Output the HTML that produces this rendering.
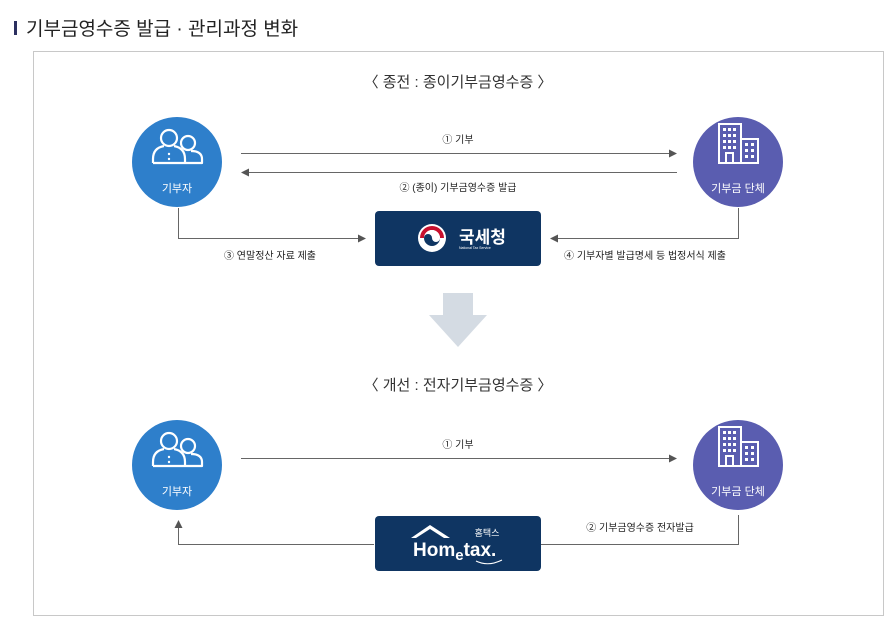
<!DOCTYPE html>
<html><head><meta charset="utf-8"><style>
body{margin:0;background:#fff;width:890px;height:626px;overflow:hidden}
svg{display:block}
text{font-family:"Liberation Sans","Noto Sans CJK KR",sans-serif}
</style></head><body>
<svg width="890" height="626" viewBox="0 0 890 626">
<defs>
<g id="people" fill="none" stroke="#fff" stroke-width="2.2" stroke-linejoin="round">
<path d="M8 6 H25 V2 Q25 -6 14 -6"/>
<circle cx="11" cy="-14" r="7"/>
<path d="M-24 6 V2 Q-24 -9 -13 -11 M-3 -11 Q8 -9 8 2 V6 M-24 6 H8"/>
<circle cx="-8" cy="-19" r="8"/>
<circle cx="-8" cy="-3" r="1.2" fill="#fff" stroke="none"/>
<circle cx="-8" cy="2" r="1.2" fill="#fff" stroke="none"/>
</g>
<g id="bldg" fill="none" stroke="#fff" stroke-width="2">
<rect x="-19" y="-28" width="22" height="39"/>
<rect x="3" y="-13" width="17" height="24"/>
<rect x="-12" y="1" width="7" height="10"/>
<g fill="#fff" stroke="none">
<rect x="-15" y="-24" width="3" height="3"/><rect x="-10" y="-24" width="3" height="3"/><rect x="-5" y="-24" width="3" height="3"/>
<rect x="-15" y="-18" width="3" height="3"/><rect x="-10" y="-18" width="3" height="3"/><rect x="-5" y="-18" width="3" height="3"/>
<rect x="-15" y="-12" width="3" height="3"/><rect x="-10" y="-12" width="3" height="3"/><rect x="-5" y="-12" width="3" height="3"/>
<rect x="-15" y="-6" width="3" height="3"/><rect x="-10" y="-6" width="3" height="3"/><rect x="-5" y="-6" width="3" height="3"/>
<rect x="7" y="-9" width="3" height="3"/><rect x="13" y="-9" width="3" height="3"/>
<rect x="7" y="-3" width="3" height="3"/><rect x="13" y="-3" width="3" height="3"/>
<rect x="7" y="3" width="3" height="3"/><rect x="13" y="3" width="3" height="3"/>
</g></g>
</defs>
<rect x="14" y="21" width="3" height="14" fill="#2c3060"/>
<text x="26" y="35" font-size="19" fill="#222">기부금영수증 발급 · 관리과정 변화</text>
<rect x="33.5" y="51.5" width="850" height="564" fill="none" stroke="#c8c8c8"/>

<text x="458" y="87" font-size="15" fill="#333" text-anchor="middle">〈 종전 : 종이기부금영수증 〉</text>
<circle cx="177" cy="162" r="45" fill="#2e7fcb"/>
<use href="#people" x="177" y="157"/>
<text x="177" y="192" font-size="11" fill="#fff" text-anchor="middle">기부자</text>
<circle cx="738" cy="162" r="45" fill="#5a5db0"/>
<use href="#bldg" x="738" y="152"/>
<text x="738" y="192" font-size="11" fill="#fff" text-anchor="middle">기부금 단체</text>

<g stroke="#666" stroke-width="1" fill="none">
<path d="M241 153.5H672"/><path d="M246 172.5H677"/>
<path d="M178.5 208V238.5H360"/><path d="M738.5 208V238.5H556"/>
<path d="M241 458.5H672"/>
<path d="M374 544.5H178.5V527"/><path d="M541 544.5H738.5V515"/>
</g>
<g fill="#555">
<path d="M677 153.5l-8-4v8z"/><path d="M241 172.5l8-4v8z"/>
<path d="M366 238.5l-8-4v8z"/><path d="M550 238.5l8-4v8z"/>
<path d="M677 458.5l-8-4v8z"/><path d="M178.5 520l-4 8h8z"/>
</g>
<g font-size="10" fill="#222" text-anchor="middle">
<text x="458" y="143">① 기부</text>
<text x="458" y="191">② (종이) 기부금영수증 발급</text>
<text x="270" y="259">③ 연말정산 자료 제출</text>
<text x="645" y="259">④ 기부자별 발급명세 등 법정서식 제출</text>
<text x="458" y="448">① 기부</text>
<text x="640" y="531">② 기부금영수증 전자발급</text>
</g>

<rect x="375" y="211" width="166" height="55" rx="4" fill="#0f3562"/>
<circle cx="432" cy="238" r="14" fill="#fff"/>
<path d="M420 238a12 12 0 0 1 24 0h-4a8 8 0 0 0 -16 0z" fill="#c8102e"/>
<path d="M424 238a8 8 0 0 1 16 0a10 10 0 0 1 -20 0z" fill="#fff"/>
<path d="M424 238a4 4 0 0 1 8 0a4 4 0 0 0 8 0a8 8 0 0 1 -16 0z" fill="#0f3562"/>
<text x="459" y="243" font-size="17" font-weight="bold" fill="#fff">국세청</text>
<text x="459" y="249" font-size="3.5" fill="#fff">National Tax Service</text>

<path d="M443 293h30v22h14l-29 32l-29-32h14z" fill="#d4dbe3"/>

<text x="458" y="390" font-size="15" fill="#333" text-anchor="middle">〈 개선 : 전자기부금영수증 〉</text>
<circle cx="177" cy="465" r="45" fill="#2e7fcb"/>
<use href="#people" x="177" y="460"/>
<text x="177" y="495" font-size="11" fill="#fff" text-anchor="middle">기부자</text>
<circle cx="738" cy="465" r="45" fill="#5a5db0"/>
<use href="#bldg" x="738" y="455"/>
<text x="738" y="495" font-size="11" fill="#fff" text-anchor="middle">기부금 단체</text>

<rect x="375" y="516" width="166" height="55" rx="4" fill="#0f3562"/>
<path d="M411 538l19-13l20 13h-6l-14-9l-14 9z" fill="#fff"/>
<text x="487" y="536" font-size="9" fill="#fff" text-anchor="middle">홈택스</text>
<text x="413" y="556" font-size="19" font-weight="bold" fill="#fff">Hom<tspan font-size="15" dy="4">e</tspan><tspan dy="-4">tax.</tspan></text>
<path d="M476 561q12 6 26 -1" stroke="#fff" stroke-width="1" fill="none"/>
</svg>
</body></html>
